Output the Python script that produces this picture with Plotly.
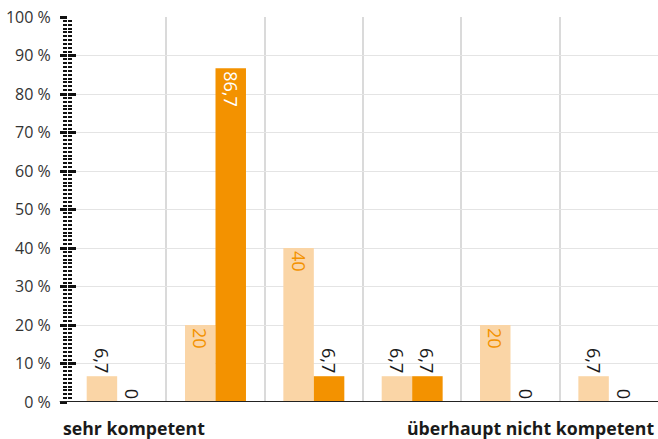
import plotly.graph_objects as go

categories = [0, 1, 2, 3, 4, 5]
light_values = [6.7, 20, 40, 6.7, 20, 6.7]
dark_values = [0, 86.7, 6.7, 6.7, 0, 0]
left_label = "sehr kompetent"
right_label = "überhaupt nicht kompetent"
y_ticks = [0, 10, 20, 30, 40, 50, 60, 70, 80, 90, 100]
y_tick_text = [f"{v}\u00a0%" for v in y_ticks]

LIGHT = "#FAD5A6"
DARK = "#F39200"
FONT = "Open Sans"


def fmt(v):
    s = f"{v:g}"
    return s.replace(".", ",")


def positions(vals):
    return ["inside" if v >= 15 else "outside" for v in vals]


fig = go.Figure()
fig.add_trace(go.Bar(
    x=categories, y=light_values, marker=dict(color=LIGHT, line=dict(width=0)),
    text=[fmt(v) for v in light_values], textposition=positions(light_values),
    textangle=90, insidetextanchor="end", constraintext="none", cliponaxis=False,
    insidetextfont=dict(color=DARK, size=18, family=FONT),
    outsidetextfont=dict(color="#1a1a1a", size=18, family=FONT),
    hoverinfo="skip",
))
fig.add_trace(go.Bar(
    x=categories, y=dark_values, marker=dict(color=DARK, line=dict(width=0)),
    text=[fmt(v) for v in dark_values], textposition=positions(dark_values),
    textangle=90, insidetextanchor="end", constraintext="none", cliponaxis=False,
    insidetextfont=dict(color="white", size=18, family=FONT),
    outsidetextfont=dict(color="#1a1a1a", size=18, family=FONT),
    hoverinfo="skip",
))
# invisible trace to anchor the secondary (tick ladder) axis
fig.add_trace(go.Scatter(x=[0], y=[0], yaxis="y2", mode="markers",
                         marker=dict(opacity=0), showlegend=False, hoverinfo="skip"))

fig.update_layout(
    width=658, height=439,
    margin=dict(l=68, r=0, t=17, b=37, autoexpand=False),
    paper_bgcolor="white", plot_bgcolor="white",
    barmode="group", bargap=0.38, bargroupgap=0,
    showlegend=False,
    font=dict(family=FONT, color="#333333"),
    xaxis=dict(
        range=[-0.5, 5.5], tickvals=[c + 0.5 for c in categories[:-1]],
        showticklabels=False, ticks="", showgrid=True, gridcolor="#dadada", gridwidth=2,
        zeroline=False, showline=False, automargin=False,
    ),
    yaxis=dict(
        range=[0, 100], tickmode="array", tickvals=y_ticks, ticktext=y_tick_text,
        ticks="outside", ticklen=7, tickwidth=3, tickcolor="#111111",
        minor=dict(dtick=1, ticks="outside", ticklen=4, tickwidth=1.7, tickcolor="#111111", showgrid=False),
        tickfont=dict(size=16, color="#333333", family=FONT), ticklabelstandoff=6,
        ticklabeloverflow="allow",
        showgrid=True, gridcolor="#e4e4e4", gridwidth=1.3,
        zeroline=False, showline=False, automargin=False,
    ),
    yaxis2=dict(
        overlaying="y", side="left", range=[0, 100], tickmode="array", tickvals=y_ticks,
        showticklabels=False, ticks="inside", ticklen=8, tickwidth=3, tickcolor="#111111",
        minor=dict(dtick=1, ticks="inside", ticklen=4, tickwidth=1.7, tickcolor="#111111", showgrid=False),
        showgrid=False, zeroline=False, showline=False, automargin=False,
    ),
)

fig.add_shape(type="line", xref="paper", yref="y", x0=-0.014, x1=1, y0=0, y1=0,
              line=dict(color="#222222", width=2))

fig.add_annotation(text=f"<b>{left_label}</b>", xref="paper", yref="paper",
                   x=-0.012, y=0, xanchor="left", yanchor="middle", yshift=-26, showarrow=False,
                   font=dict(size=17.7, color="#1a1a1a", family=FONT))
fig.add_annotation(text=f"<b>{right_label}</b>", xref="paper", yref="paper",
                   x=0.996, y=0, xanchor="right", yanchor="middle", yshift=-26, showarrow=False,
                   font=dict(size=17.7, color="#1a1a1a", family=FONT))

# remove the browser's default 8px body margin so the figure fills the window exactly
fig.write_html("out.html", config={"displayModeBar": False},
               post_script="document.body.style.margin='0';")
